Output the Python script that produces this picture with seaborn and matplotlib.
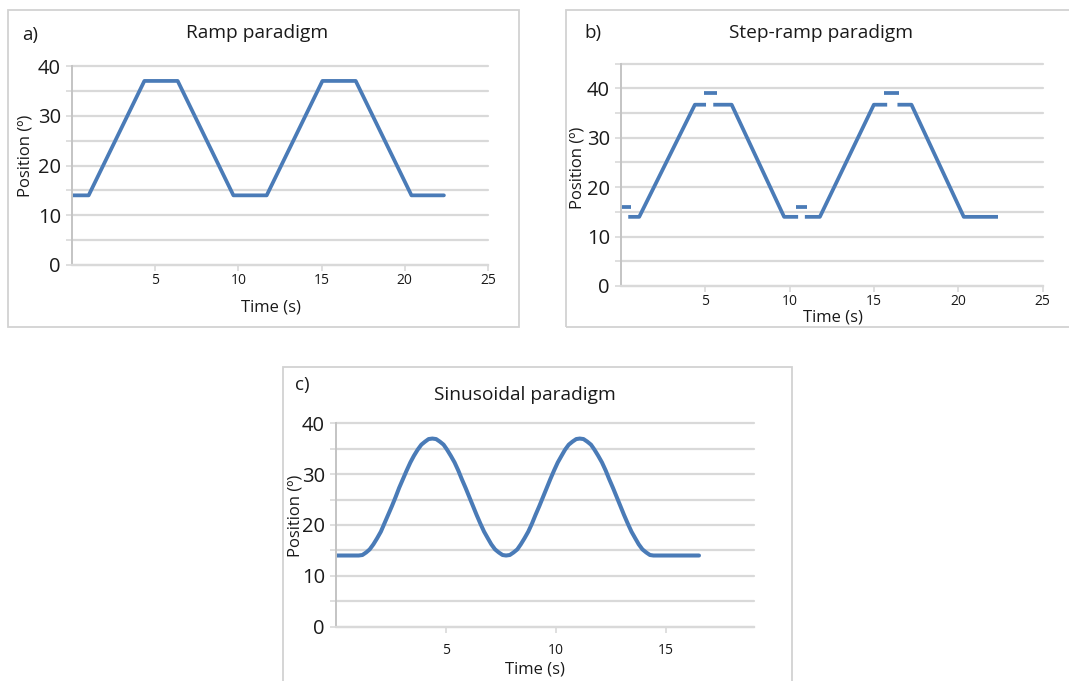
import matplotlib
matplotlib.use("Agg")
import matplotlib.pyplot as plt
from matplotlib.patches import Rectangle
import numpy as np
import pandas as pd
import seaborn as sns

# ---- data -------------------------------------------------------------
ramp_time = [0, 1.0, 4.35, 6.35, 9.7, 11.7, 15.05, 17.05, 20.4, 22.35]
ramp_pos = [14, 14, 37, 37, 14, 14, 37, 37, 14, 14]

step_time = [0, 0.58,
             0.43, 1.08, 4.38, 5.04,
             4.93, 5.67,
             5.47, 6.56, 9.67, 10.5,
             10.37, 11.04,
             10.9, 11.79, 14.99, 15.78,
             15.6, 16.49,
             16.39, 17.22, 20.32, 22.35]
step_pos = [16, 16,
            14, 14, 36.7, 36.7,
            39, 39,
            36.7, 36.7, 14, 14,
            16, 16,
            14, 14, 36.7, 36.7,
            39, 39,
            36.7, 36.7, 14, 14]
step_seg = [0, 0, 1, 1, 1, 1, 2, 2, 3, 3, 3, 3,
            4, 4, 5, 5, 5, 5, 6, 6, 7, 7, 7, 7]

sine_time = [0,
             1.03, 1.20, 1.37, 1.53, 1.70, 1.87, 2.04, 2.20, 2.37, 2.54, 2.71,
             2.87, 3.04, 3.21, 3.38, 3.54, 3.71, 3.88, 4.05, 4.21, 4.38,
             4.55, 4.72, 4.89, 5.05, 5.22, 5.39, 5.56, 5.72, 5.89, 6.06,
             6.23, 6.39, 6.56, 6.73, 6.90, 7.06, 7.23, 7.40, 7.57, 7.73,
             7.90, 8.07, 8.24, 8.40, 8.57, 8.74, 8.91, 9.07, 9.24, 9.41,
             9.58, 9.74, 9.91, 10.08, 10.25, 10.41, 10.58, 10.75, 10.92, 11.08,
             11.25, 11.42, 11.59, 11.75, 11.92, 12.09, 12.26, 12.42, 12.59, 12.76,
             12.93, 13.09, 13.26, 13.43, 13.60, 13.76, 13.93, 14.10, 14.27, 14.43,
             16.5]
sine_pos = [14.0,
            14.0, 14.1, 14.6, 15.2, 16.2, 17.4, 18.7, 20.3, 22.0, 23.7, 25.5,
            27.3, 29.0, 30.7, 32.3, 33.6, 34.8, 35.8, 36.4, 36.9, 37.0,
            36.9, 36.4, 35.8, 34.8, 33.6, 32.3, 30.7, 29.0, 27.3, 25.5,
            23.7, 22.0, 20.3, 18.7, 17.4, 16.2, 15.2, 14.6, 14.1, 14.0,
            14.1, 14.6, 15.2, 16.2, 17.4, 18.7, 20.3, 22.0, 23.7, 25.5,
            27.3, 29.0, 30.7, 32.3, 33.6, 34.8, 35.8, 36.4, 36.9, 37.0,
            36.9, 36.4, 35.8, 34.8, 33.6, 32.3, 30.7, 29.0, 27.3, 25.5,
            23.7, 22.0, 20.3, 18.7, 17.4, 16.2, 15.2, 14.6, 14.1, 14.0,
            14.0]

titles = ["Ramp paradigm", "Step-ramp paradigm", "Sinusoidal paradigm"]
letters = ["a)", "b)", "c)"]
x_label = "Time (s)"
y_label = "Position (º)"
y_ticks = [0, 10, 20, 30, 40]

# ---- style ------------------------------------------------------------
sns.set_style("white")
FONT = ["Open Sans", "DejaVu Sans"]
plt.rcParams["font.family"] = FONT

W, H = 1069, 681
BLUE = "#4a7bb7"
GRID = "#d9d9d9"
AXIS = "#c4c4c4"
FRAME = "#d2d2d2"
TEXT = "#1a1a1a"

fig = plt.figure(figsize=(W / 100, H / 100), dpi=100)
fig.patch.set_facecolor("white")


def fig_xy(x, y):
    return x / W, 1 - y / H


def add_axes(l, t, r, b):
    return fig.add_axes([l / W, 1 - b / H, (r - l) / W, (b - t) / H])


def frame(l, t, r, b):
    fig.patches.append(Rectangle((l / W, 1 - b / H), (r - l) / W, (b - t) / H,
                                 transform=fig.transFigure, fill=False,
                                 edgecolor=FRAME, lw=1.3, clip_on=False))


def style(ax, xmax, ymax, xticks, xpad):
    ax.set_xlim(0, xmax)
    ax.set_ylim(0, ymax)
    ax.set_xticks(xticks)
    ax.set_yticks(y_ticks)
    ax.set_yticks(np.arange(5, ymax + 1, 10), minor=True)
    ax.set_axisbelow(True)
    ax.grid(axis="y", which="both", color=GRID, lw=1.6)
    ax.grid(axis="x", visible=False)
    ax.tick_params(axis="y", which="both", length=4, width=1.2, color=GRID,
                   labelsize=14.5, labelcolor=TEXT, pad=4, direction="out", left=True)
    ax.tick_params(axis="y", which="minor", labelleft=False)
    ax.tick_params(axis="x", length=4, width=1.2, color=GRID, labelsize=10,
                   labelcolor=TEXT, pad=xpad, direction="out", bottom=True)
    for s in ("top", "right"):
        ax.spines[s].set_visible(False)
    ax.spines["left"].set_color(AXIS)
    ax.spines["left"].set_linewidth(1.4)
    ax.spines["bottom"].set_color(GRID)
    ax.spines["bottom"].set_linewidth(1.6)
    for tk in ax.yaxis.get_major_ticks() + ax.yaxis.get_minor_ticks():
        tk.gridline.set_clip_on(False)
    ax.set_xlabel("")
    ax.set_ylabel("")


def labels(ax, letter, title, letter_xy, title_xy, xl_xy, yl_xy):
    fig.text(*fig_xy(*letter_xy), letter, ha="center", va="center",
             fontsize=13.5, color=TEXT)
    fig.text(*fig_xy(*title_xy), title, ha="center", va="center",
             fontsize=13.8, color=TEXT)
    ax.set_xlabel(x_label, fontsize=12, color=TEXT, va="center", ha="center")
    ax.xaxis.set_label_coords(*fig_xy(*xl_xy), transform=fig.transFigure)
    ax.set_ylabel(y_label, fontsize=12, color=TEXT, va="center", ha="center")
    ax.yaxis.set_label_coords(*fig_xy(*yl_xy), transform=fig.transFigure)


# panel frames
frame(8, 10, 519, 327)
frame(566, 10, 1072, 327)
frame(283, 367, 792, 690)

# ---- a) ramp ----------------------------------------------------------
ax_a = add_axes(72, 66, 488, 265)
sns.lineplot(x=ramp_time, y=ramp_pos, ax=ax_a, color=BLUE, lw=2.7,
             sort=False, estimator=None)
style(ax_a, 25, 40, [5, 10, 15, 20, 25], 2)
labels(ax_a, letters[0], titles[0], (30, 35), (257, 33), (271, 308), (26, 156))

# ---- b) step-ramp -----------------------------------------------------
step_df = pd.DataFrame({"time": step_time, "pos": step_pos, "seg": step_seg})
ax_b = add_axes(621, 63.7, 1042.7, 286)
sns.lineplot(data=step_df, x="time", y="pos", units="seg", ax=ax_b,
             color=BLUE, lw=2.7, sort=False, estimator=None)
for ln in ax_b.get_lines():
    ln.set_solid_capstyle("butt")
style(ax_b, 25, 45, [5, 10, 15, 20, 25], 2)
labels(ax_b, letters[1], titles[1], (593, 33), (821, 33), (833, 317), (578, 168))

# ---- c) sinusoidal ----------------------------------------------------
ax_c = add_axes(336, 423.3, 754, 626.7)
sns.lineplot(x=sine_time, y=sine_pos, ax=ax_c, color=BLUE, lw=2.9,
             sort=False, estimator=None)
style(ax_c, 19, 40, [5, 10, 15], 8)
labels(ax_c, letters[2], titles[2], (302, 385), (525, 395), (535, 669), (295, 516))

fig.savefig("out.png", dpi=100, facecolor="white")
